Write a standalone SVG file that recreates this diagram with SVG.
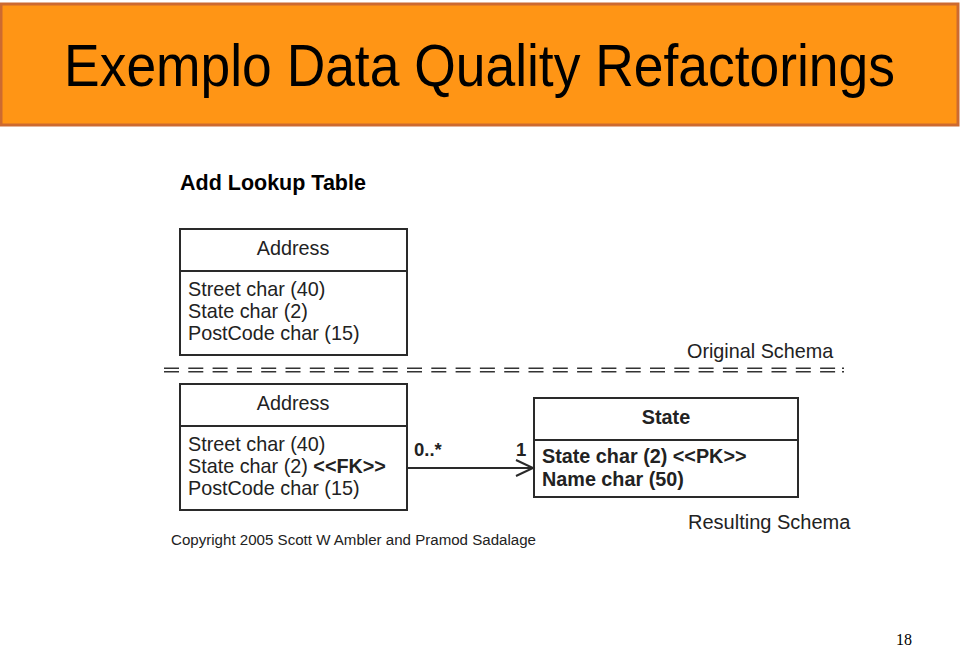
<svg xmlns="http://www.w3.org/2000/svg" width="960" height="648" viewBox="0 0 960 648">
<style>
.t{font-family:"Liberation Sans",Arial,sans-serif;fill:#222}
.a{font-size:19.8px}
.b{font-weight:bold}
.box{fill:#fff;stroke:#2a2a2a;stroke-width:2}
.ln{stroke:#2a2a2a;stroke-width:2;fill:none}
.dash{stroke:#333;stroke-width:1.6;stroke-dasharray:15 9.3;fill:none}
</style>
<rect width="960" height="648" fill="#fff"/>
<g id="title">
<rect x="1" y="4" width="957" height="121" fill="#FF9515" stroke="#CD6A30" stroke-width="3"/>
<text class="t" x="0" y="0" font-size="60" text-anchor="middle" transform="translate(479.5 86) scale(0.89 1)" style="fill:#000">Exemplo Data Quality Refactorings</text>
</g>
<text class="t b" x="180" y="190" font-size="21.5" style="fill:#000">Add Lookup Table</text>
<g id="address-original">
<rect class="box" x="180" y="229" width="227" height="126"/>
<line class="ln" x1="180" y1="271" x2="407" y2="271"/>
<text class="t a" x="293" y="255" text-anchor="middle">Address</text>
<text class="t a" x="188" y="296">Street char (40)</text>
<text class="t a" x="188" y="318">State char (2)</text>
<text class="t a" x="188" y="340">PostCode char (15)</text>
</g>
<text class="t" x="687" y="358" font-size="19.8">Original Schema</text>
<g id="separator">
<line class="dash" x1="164" y1="368.3" x2="838" y2="368.3"/>
<line class="dash" x1="164" y1="371.7" x2="838" y2="371.7"/>
<line x1="842" y1="368.3" x2="844" y2="368.3" stroke="#333" stroke-width="1.6"/>
<line x1="842" y1="371.7" x2="844" y2="371.7" stroke="#333" stroke-width="1.6"/>
</g>
<g id="address-result">
<rect class="box" x="180" y="384" width="227" height="126"/>
<line class="ln" x1="180" y1="426" x2="407" y2="426"/>
<text class="t a" x="293" y="410" text-anchor="middle">Address</text>
<text class="t a" x="188" y="451">Street char (40)</text>
<text class="t a" x="188" y="473">State char (2) <tspan class="b">&lt;&lt;FK&gt;&gt;</tspan></text>
<text class="t a" x="188" y="495">PostCode char (15)</text>
</g>
<g id="state">
<rect class="box" x="534" y="398" width="264" height="99"/>
<line class="ln" x1="534" y1="440" x2="798" y2="440"/>
<text class="t a b" x="666" y="424" text-anchor="middle">State</text>
<text class="t a b" x="542" y="463">State char (2) &lt;&lt;PK&gt;&gt;</text>
<text class="t a b" x="542" y="486">Name char (50)</text>
</g>
<g id="connectors">
<line class="ln" x1="407" y1="468" x2="533" y2="468"/>
<polyline class="ln" points="516,460 533,468 516,476"/>
<text class="t b" x="414" y="456" font-size="18.5">0..*</text>
<text class="t b" x="516" y="456" font-size="18.5">1</text>
</g>
<text class="t" x="688" y="529" font-size="20">Resulting Schema</text>
<text class="t" x="171" y="545" font-size="15.1">Copyright 2005 Scott W Ambler and Pramod Sadalage</text>
<text x="912" y="645" font-family="'Liberation Serif','Times New Roman',serif" font-size="16" text-anchor="end" fill="#000">18</text>
</svg>
